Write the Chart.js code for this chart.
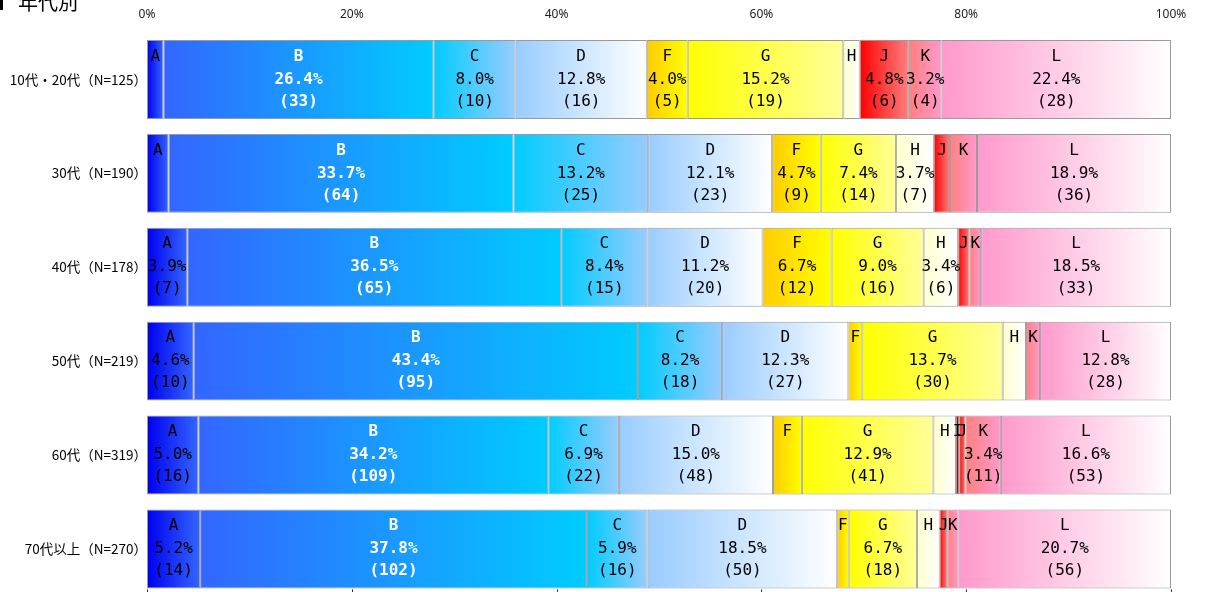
<!DOCTYPE html>
<html>
<head>
<meta charset="utf-8">
<script src="https://cdn.jsdelivr.net/npm/chart.js@4/dist/chart.umd.min.js"></script>
<style>
  html, body { margin: 0; padding: 0; background: #fff; overflow: hidden; }
  #wrap { width: 1205px; height: 604px; }
</style>
</head>
<body>
<div id="wrap"><canvas id="ageChart" width="1205" height="604"></canvas></div>
<script>
// 行ラベル（年代）と回答者数
const ageLabels = ["10代・20代（N=125）", "30代（N=190）", "40代（N=178）", "50代（N=219）", "60代（N=319）", "70代以上（N=270）"];
const totalN = [125, 190, 178, 219, 319, 270];

// 回答カテゴリ
const categories = ["A", "B", "C", "D", "F", "G", "H", "I", "J", "K", "L"];

// 各カテゴリの人数（行順）
const countA = [2, 4, 7, 10, 16, 14];
const countB = [33, 64, 65, 95, 109, 102];
const countC = [10, 25, 15, 18, 22, 16];
const countD = [16, 23, 20, 27, 48, 50];
const countF = [5, 9, 12, 3, 9, 3];
const countG = [19, 14, 16, 30, 41, 18];
const countH = [2, 7, 6, 5, 7, 6];
const countI = [0, 0, 0, 0, 1, 0];
const countJ = [6, 3, 2, 0, 2, 2];
const countK = [4, 5, 2, 3, 11, 3];
const countL = [28, 36, 33, 28, 53, 56];

const tickLabels = ["0%", "20%", "40%", "60%", "80%", "100%"];

const counts = [countA, countB, countC, countD, countF, countG, countH, countI, countJ, countK, countL];

// グラデーション色（開始・終了）
const gradColors = [
  ["#0000f0", "#3366ff"],
  ["#3366ff", "#00ccff"],
  ["#00ccff", "#99ccff"],
  ["#99ccff", "#ffffff"],
  ["#ffcc00", "#ffff00"],
  ["#ffff00", "#ffff99"],
  ["#ffffcc", "#ffffff"],
  ["#b00000", "#c00000"],
  ["#ff0000", "#ff8080"],
  ["#ff8080", "#ff99cc"],
  ["#ff99cc", "#ffffff"],
];

// 割合(%)に変換
const percents = counts.map((arr) => arr.map((v, i) => (v / totalN[i]) * 100));

// 棒の左端の割合を求める
function startOf(dsIndex, rowIndex) {
  let s = 0;
  for (let d = 0; d < dsIndex; d++) s += percents[d][rowIndex];
  return s;
}

// 横方向グラデーション
function gradientFor(context) {
  const ds = context.datasetIndex;
  const pair = gradColors[ds];
  const chart = context.chart;
  const xs = chart.scales.x;
  if (context.type !== "data" || !xs) return pair[0];
  const s = startOf(ds, context.dataIndex);
  const e = s + percents[ds][context.dataIndex];
  const x0 = xs.getPixelForValue(s);
  const x1 = xs.getPixelForValue(e);
  if (!isFinite(x0) || !isFinite(x1) || x1 - x0 < 1) return pair[0];
  const g = chart.ctx.createLinearGradient(x0, 0, x1, 0);
  g.addColorStop(0, pair[0]);
  g.addColorStop(1, pair[1]);
  return g;
}

const datasets = categories.map((name, i) => ({
  label: name,
  data: percents[i],
  backgroundColor: gradientFor,
  borderColor: "#9a9a9a",
  borderWidth: 1,
  borderSkipped: false,
  barPercentage: 0.84,
  categoryPercentage: 1,
}));

// 棒の中のラベル（カテゴリ・割合・人数）
const barLabels = {
  id: "barLabels",
  afterDatasetsDraw(chart) {
    const ctx = chart.ctx;
    ctx.save();
    ctx.textAlign = "center";
    ctx.textBaseline = "middle";
    chart.data.datasets.forEach((ds, di) => {
      const meta = chart.getDatasetMeta(di);
      meta.data.forEach((bar, ri) => {
        const n = counts[di][ri];
        if (!n) return;
        const p = percents[di][ri];
        const { x, y, base } = bar.getProps(["x", "y", "base"], true);
        const cx = (x + base) / 2;
        const isB = categories[di] === "B";
        ctx.fillStyle = isB ? "#ffffff" : "#000000";
        ctx.font = (isB ? "bold " : "") + "16px 'DejaVu Sans Mono', monospace";
        ctx.fillText(categories[di], cx, y - 23);
        if (p >= 3) {
          ctx.fillText(p.toFixed(1) + "%", cx, y);
          ctx.fillText("(" + n + ")", cx, y + 22);
        }
      });
    });
    ctx.restore();
  },
};

// タイトルと下側の目盛り
const extras = {
  id: "extras",
  afterDraw(chart) {
    const ctx = chart.ctx;
    ctx.save();
    ctx.fillStyle = "#000";
    ctx.font = "20px 'Noto Sans CJK JP'";
    ctx.textBaseline = "alphabetic";
    ctx.textAlign = "left";
    ctx.fillText("■", -15, 10);
    ctx.fillText("年代別", 18, 10);
    // 下側の目盛り線
    const xs = chart.scales.x;
    const meta = chart.getDatasetMeta(0);
    const last = meta.data[meta.data.length - 1];
    const { y, height } = last.getProps(["y", "height"], true);
    const yb = y + Math.abs(height) / 2 + 1;
    ctx.strokeStyle = "#333";
    ctx.lineWidth = 1;
    xs.ticks.forEach((t) => {
      const px = Math.round(xs.getPixelForValue(t.value)) + 0.5;
      ctx.beginPath();
      ctx.moveTo(px, yb);
      ctx.lineTo(px, yb + 6);
      ctx.stroke();
    });
    ctx.restore();
  },
};

new Chart(document.getElementById("ageChart"), {
  type: "bar",
  data: { labels: ageLabels, datasets: datasets },
  options: {
    indexAxis: "y",
    responsive: false,
    animation: false,
    layout: { padding: { left: 0, right: 34, top: 0, bottom: 4 } },
    plugins: {
      legend: { display: false },
      tooltip: { enabled: false },
    },
    scales: {
      x: {
        position: "top",
        stacked: true,
        min: 0,
        max: 100,
        grid: { display: false, drawTicks: false },
        border: { display: false },
        ticks: {
          stepSize: 20,
          padding: 11,
          color: "#222",
          font: { size: 12, family: "'Noto Sans', sans-serif" },
          callback: (v, i) => tickLabels[i],
        },
        afterFit: (s) => { s.height = 32.5; },
      },
      y: {
        stacked: true,
        grid: { display: false, drawTicks: false },
        border: { display: false },
        ticks: {
          padding: 0,
          color: "#000",
          font: { size: 13.5, family: "'Noto Sans CJK JP'" },
        },
        afterFit: (s) => { s.width = 147; },
      },
    },
  },
  plugins: [barLabels, extras],
});
</script>
</body>
</html>
